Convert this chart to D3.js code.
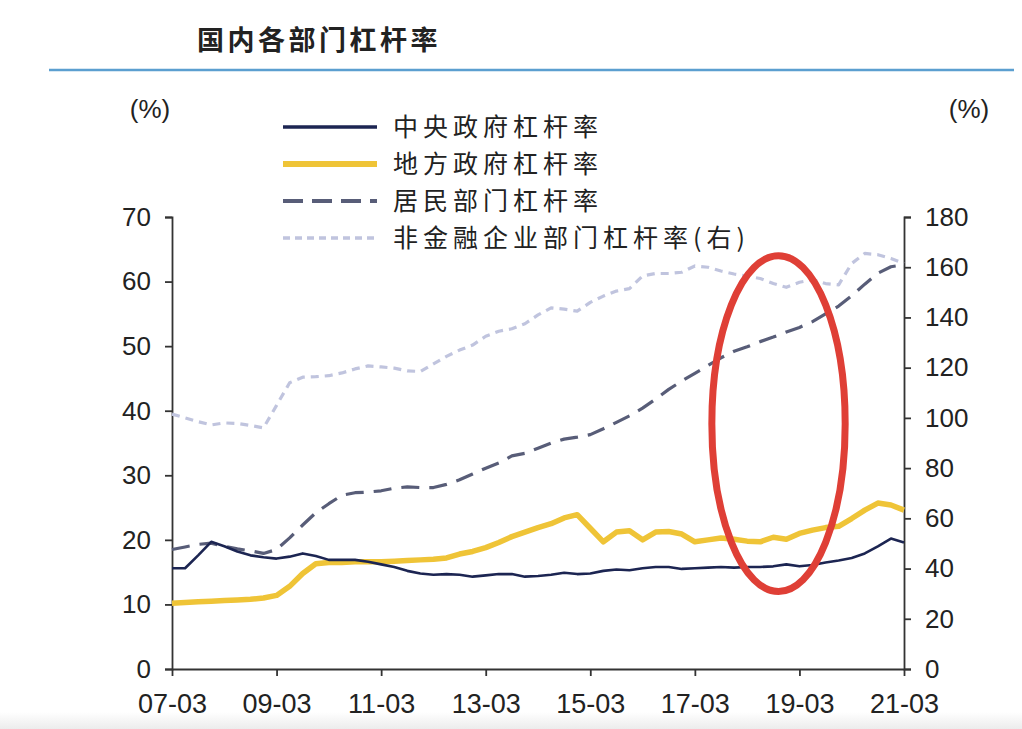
<!DOCTYPE html>
<html>
<head>
    <meta charset="utf-8">
    <title>国内各部门杠杆率</title>
    <script src="https://cdnjs.cloudflare.com/ajax/libs/d3/7.8.5/d3.min.js"></script>
    <style>
    body { margin:0; background:#fff; }
    svg { display:block; }
    .tick-num { font-family:"Liberation Sans", Arial, sans-serif; font-size:26px; fill:#222; }
    .cjk { font-family:"Noto Sans CJK SC", sans-serif; fill:#222; }
    </style>
</head>
<body>
<div class="chart"></div>
<script>
// quarterly labels 07-03 ... 21-03
var quarters = [];
for (var yr = 2007; yr <= 2021; yr++) {
    ['03','06','09','12'].forEach(function(m) {
        if (yr == 2021 && m != '03') return;
        quarters.push(String(yr).slice(2) + '-' + m);
    });
}
var xTickLabels = ['07-03','09-03','11-03','13-03','15-03','17-03','19-03','21-03'];
var leftTicks = [0,10,20,30,40,50,60,70];
var rightTicks = [0,20,40,60,80,100,120,140,160,180];

// series (%)
var central = [15.6,15.6,17.6,19.7,19.0,18.2,17.6,17.3,17.1,17.4,17.9,17.5,16.9,16.9,16.9,16.6,
    16.2,15.8,15.2,14.8,14.6,14.7,14.6,14.3,14.5,14.7,14.7,14.3,14.4,14.6,14.9,14.7,
    14.8,15.2,15.4,15.3,15.6,15.8,15.8,15.5,15.6,15.7,15.8,15.7,15.8,15.8,15.9,16.2,
    15.9,16.1,16.5,16.8,17.2,17.9,19.0,20.2,19.6];
var local = [10.2,10.3,10.4,10.5,10.6,10.7,10.8,11.0,11.4,12.8,14.8,16.3,16.5,16.5,16.6,16.6,
    16.6,16.7,16.8,16.9,17.0,17.2,17.8,18.2,18.8,19.6,20.5,21.2,21.9,22.5,23.4,23.9,
    21.8,19.7,21.2,21.4,20.0,21.2,21.3,20.9,19.7,20.0,20.3,20.1,19.8,19.7,20.4,20.1,
    21.0,21.5,21.9,22.1,23.3,24.6,25.7,25.4,24.6];
var household = [18.5,18.9,19.3,19.5,19.0,18.6,18.3,17.9,18.5,20.3,22.3,24.2,25.6,26.9,27.3,27.4,
    27.6,28.0,28.2,28.1,28.1,28.6,29.3,30.2,31.1,31.9,33.0,33.4,34.2,35.0,35.6,35.9,
    36.3,37.2,38.2,39.2,40.4,41.8,43.3,44.6,45.8,47.0,48.2,49.2,49.9,50.7,51.4,52.2,
    52.9,53.8,55.0,56.2,57.8,59.6,61.3,62.3,62.6];
// right axis
var enterprise = [101.5,100.0,98.5,97.2,98.0,97.8,97.0,96.0,105.0,114.0,116.2,116.4,116.8,117.9,119.5,120.7,
    120.3,119.8,118.7,118.5,121.5,124.5,127.0,129.0,132.5,134.5,135.5,137.5,141.0,143.8,143.3,142.5,
    146.0,148.5,150.5,151.5,156.5,157.5,157.5,158.0,160.5,160.0,158.5,157.3,156.5,155.5,153.5,152.0,
    154.0,155.0,153.5,153.0,161.5,165.5,165.0,163.5,161.5];

var seriesNames = ['中央政府杠杆率','地方政府杠杆率','居民部门杠杆率','非金融企业部门杠杆率(右)'];
// highlighted region: quarter index range and left-axis value range
var highlight = { from:41.3, to:51.5, low:12.0, high:64.0 };

var width = 1022, height = 729;
var plotLeft = 172, plotRight = 904, plotTop = 217, plotBottom = 669;

var svg = d3.select('.chart').append('svg')
    .attr('width', width)
    .attr('height', height);

var grad = svg.append('defs').append('linearGradient')
    .attr('id','fade').attr('x1',0).attr('y1',0).attr('x2',0).attr('y2',1);
grad.append('stop').attr('offset','0%').attr('stop-color','#ffffff');
grad.append('stop').attr('offset','100%').attr('stop-color','#ececec');
svg.append('rect').attr('x',0).attr('y',712).attr('width',width).attr('height',17)
    .attr('fill','url(#fade)');

var x = d3.scalePoint().domain(quarters).range([plotLeft, plotRight]);
var yL = d3.scaleLinear().domain([0,70]).range([plotBottom, plotTop]);
var yR = d3.scaleLinear().domain([0,180]).range([plotBottom, plotTop]);

// title
svg.append('text').attr('class','cjk')
    .attr('x',197).attr('y',50)
    .attr('font-size','27px').attr('font-weight','bold')
    .attr('letter-spacing','3.5px')
    .text('国内各部门杠杆率');
svg.append('line')
    .attr('x1',49).attr('x2',1014).attr('y1',70).attr('y2',70)
    .attr('stroke','#5b9fd0').attr('stroke-width',2.5);

// unit labels
svg.append('text').attr('class','tick-num').attr('x',150).attr('y',118)
    .attr('text-anchor','middle').attr('font-size','24px').text('(%)');
svg.append('text').attr('class','tick-num').attr('x',969).attr('y',118)
    .attr('text-anchor','middle').attr('font-size','24px').text('(%)');

function styleAxis(g) {
    g.select('.domain').attr('stroke','#333').attr('stroke-width',1.8);
    g.selectAll('.tick line').attr('stroke','#333').attr('stroke-width',1.8);
    g.selectAll('.tick text').attr('class','tick-num').attr('fill','#222');
}

svg.append('g')
    .attr('transform','translate(' + plotLeft + ',0)')
    .call(d3.axisLeft(yL).tickValues(leftTicks).tickSize(7).tickSizeOuter(7).tickPadding(14))
    .call(styleAxis);

svg.append('g')
    .attr('transform','translate(' + plotRight + ',0)')
    .call(d3.axisRight(yR).tickValues(rightTicks).tickSize(7).tickSizeOuter(7).tickPadding(14))
    .call(styleAxis);

svg.append('g')
    .attr('transform','translate(0,' + plotBottom + ')')
    .call(d3.axisBottom(x).tickValues(xTickLabels).tickSize(7).tickSizeOuter(0).tickPadding(18))
    .call(styleAxis)
    .selectAll('.tick text').style('font-size','27px');

var lineL = d3.line().x(function(d,i) { return x(quarters[i]); }).y(function(d) { return yL(d); });
var lineR = d3.line().x(function(d,i) { return x(quarters[i]); }).y(function(d) { return yR(d); });

var styles = [
    { color:'#1c2552', width:2.6, dash:null },
    { color:'#efc437', width:5.5, dash:null },
    { color:'#585d78', width:3.2, dash:'18,10' },
    { color:'#c0c4de', width:3.2, dash:'8,6' }
];

function drawLine(data, gen, s) {
    svg.append('path').datum(data)
        .attr('d', gen)
        .attr('fill','none')
        .attr('stroke', s.color)
        .attr('stroke-width', s.width)
        .attr('stroke-linejoin','round')
        .attr('stroke-dasharray', s.dash);
}
drawLine(enterprise, lineR, styles[3]);
drawLine(household, lineL, styles[2]);
drawLine(local, lineL, styles[1]);
drawLine(central, lineL, styles[0]);

// legend
var legendY = [127, 164, 201, 238];
var legendLine = [
    { color:'#1c2552', width:3.5, dash:null },
    { color:'#efc437', width:6, dash:null },
    { color:'#585d78', width:4, dash:'20,9' },
    { color:'#c0c4de', width:3.5, dash:'7,5' }
];
seriesNames.forEach(function(name, k) {
    svg.append('line')
        .attr('x1',283).attr('x2',377)
        .attr('y1',legendY[k]).attr('y2',legendY[k])
        .attr('stroke',legendLine[k].color)
        .attr('stroke-width',legendLine[k].width)
        .attr('stroke-dasharray',legendLine[k].dash);
    svg.append('text').attr('class','cjk')
        .attr('x',393).attr('y',legendY[k] + 9)
        .attr('font-size','25px')
        .attr('letter-spacing','5px')
        .text(name);
});

// red highlight ellipse
var step = x(quarters[1]) - x(quarters[0]);
var cx = x(quarters[0]) + step * (highlight.from + highlight.to) / 2;
svg.append('ellipse')
    .attr('cx', cx)
    .attr('cy', (yL(highlight.low) + yL(highlight.high)) / 2)
    .attr('rx', (highlight.to - highlight.from) * step / 2)
    .attr('ry', (yL(highlight.low) - yL(highlight.high)) / 2)
    .attr('fill','none')
    .attr('stroke','#df3f36')
    .attr('stroke-width',7);
</script>
</body>
</html>
